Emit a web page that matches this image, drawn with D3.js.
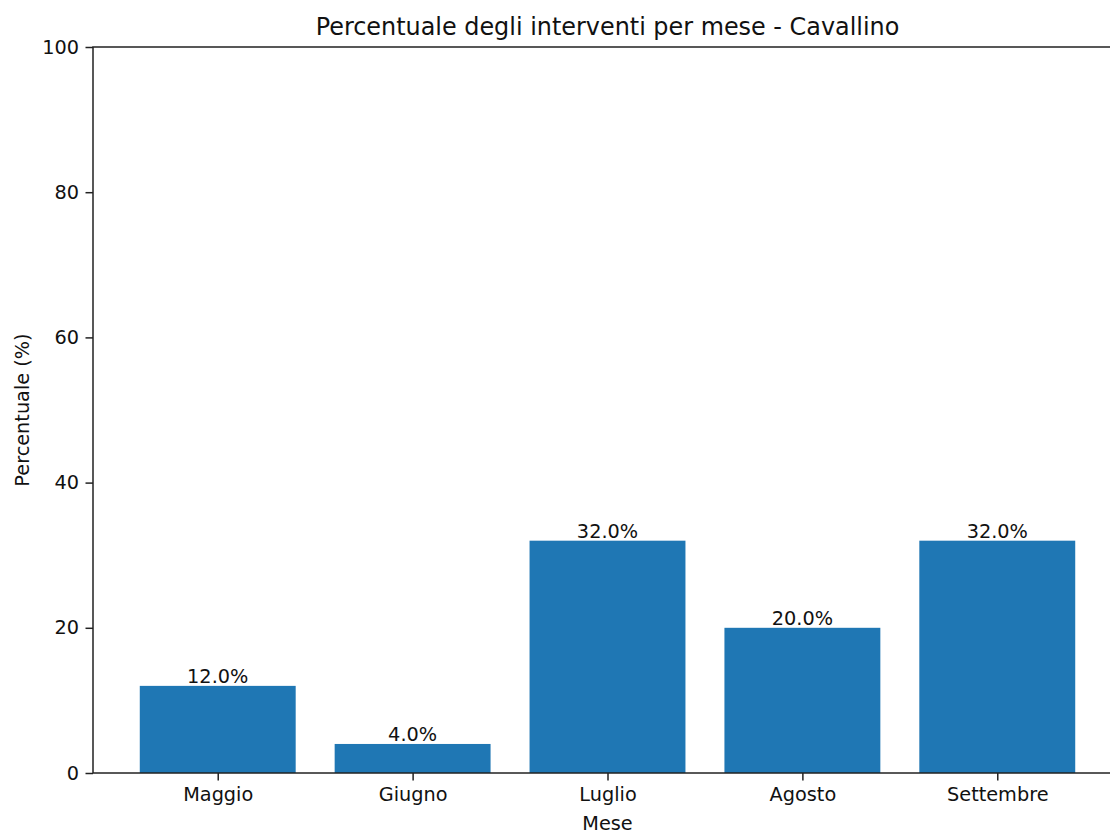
<!DOCTYPE html>
<html><head><meta charset="utf-8">
<script src="https://cdn.jsdelivr.net/npm/d3@7"></script>
<style>body{margin:0;background:#fff}svg{display:block}text{font-family:"DejaVu Sans",sans-serif;fill:#111}</style>
</head><body><svg id="c" width="1110" height="835"></svg>
<script>
const months = ["Maggio","Giugno","Luglio","Agosto","Settembre"];
const percentages = [12.0, 4.0, 32.0, 20.0, 32.0];
const yTicks = [0,20,40,60,80,100];
const title = "Percentuale degli interventi per mese - Cavallino";
const xLabel = "Mese";
const yLabel = "Percentuale (%)";

const svg = d3.select("#c");
const L = 93, R = 1122, T = 47, B = 773;
const fs = 19.3;
const x = d3.scaleLinear().domain([-0.64, 4.64]).range([L, R]);
const y = d3.scaleLinear().domain([0, 100]).range([B, T]);
const bw = 0.8;

svg.selectAll("rect.bar").data(percentages).enter().append("rect")
  .attr("x", (d,i)=>x(i-bw/2)).attr("width", (d,i)=>x(i+bw/2)-x(i-bw/2))
  .attr("y", d=>y(d)).attr("height", d=>y(0)-y(d)).attr("fill","#1f77b4");

svg.selectAll("text.val").data(percentages).enter().append("text")
  .attr("x",(d,i)=>x(i)).attr("y", d=>y(d)-3).attr("text-anchor","middle")
  .attr("font-size", fs).text(d=>d.toFixed(1)+"%");

// y axis
const ya = svg.append("g").attr("transform",`translate(${L},0)`)
  .call(d3.axisLeft(y).tickValues(yTicks).tickSize(7.5).tickPadding(6.5).tickFormat(d3.format("d")));
ya.select(".domain").remove();
ya.selectAll("line").attr("stroke","#222").attr("stroke-width",1.5);
ya.selectAll("text").attr("font-size",fs).attr("font-family","DejaVu Sans").attr("fill","#111");

// x axis
const xa = svg.append("g").attr("transform",`translate(0,${B})`)
  .call(d3.axisBottom(x).tickValues(d3.range(months.length)).tickSize(7.5).tickPadding(6.3).tickFormat(i=>months[i]));
xa.select(".domain").remove();
xa.selectAll("line").attr("stroke","#222").attr("stroke-width",1.5);
xa.selectAll("text").attr("font-size",fs).attr("font-family","DejaVu Sans").attr("fill","#111");

// spines
const sp = svg.append("g").attr("stroke","#222").attr("stroke-width",1.5).attr("fill","none");
sp.append("rect").attr("x",L).attr("y",T).attr("width",R-L).attr("height",B-T);

svg.append("text").attr("x",(L+R)/2).attr("y",34.5).attr("text-anchor","middle").attr("font-size",23.9).text(title);
svg.append("text").attr("x",(L+R)/2).attr("y",830).attr("text-anchor","middle").attr("font-size",fs).text(xLabel);
svg.append("text").attr("transform",`translate(28.5,${(T+B)/2}) rotate(-90)`).attr("text-anchor","middle").attr("font-size",fs).text(yLabel);
</script></body></html>
